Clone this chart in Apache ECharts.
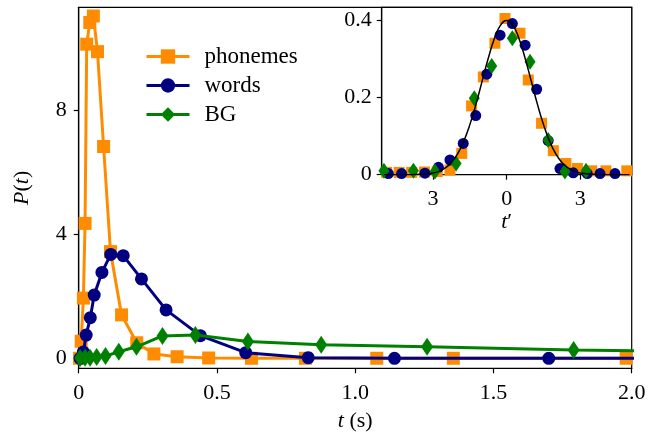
<!DOCTYPE html>
<html>
<head>
<meta charset="utf-8">
<script src="https://cdn.jsdelivr.net/npm/echarts@6/dist/echarts.min.js"></script>
<style>
html,body{margin:0;padding:0;background:#fff;}
#c{width:649px;height:436px;}
</style>
</head>
<body>
<div id="c"></div>
<script>
// main panel: P(t) vs t (s)
var phT = [0.003,0.009,0.017,0.023,0.029,0.04,0.053,0.068,0.09,0.115,0.155,0.21,0.272,0.356,0.47,0.625,0.82,1.078,1.355,1.98];
var phP = [0.0,0.55,1.94,4.35,10.13,10.83,11.04,9.89,6.83,3.44,1.40,0.5,0.14,0.05,0.01,0.0,0.0,0.0,0.0,0.0];
var wdT = [0.005,0.017,0.027,0.042,0.056,0.084,0.116,0.161,0.227,0.316,0.44,0.604,0.83,1.142,1.70,2.4];
var wdP = [0.0,0.2,0.75,1.31,2.04,2.77,3.35,3.31,2.56,1.56,0.73,0.18,0.02,0.0,0.0,0.0];
var bgT = [0.005,0.023,0.041,0.065,0.097,0.145,0.209,0.303,0.422,0.612,0.877,1.26,1.79,2.5];
var bgP = [0.01,0.02,0.02,0.04,0.07,0.21,0.37,0.72,0.75,0.54,0.44,0.37,0.27,0.17];

// inset: rescaled t'
var phT2 = [-4.89,-4.38,-3.87,-3.35,-2.83,-2.31,-1.83,-1.43,-0.95,-0.48,-0.07,0.54,0.88,1.42,1.9,2.41,2.88,3.46,4.04,4.89];
var phP2 = [0.006,0.006,0.006,0.007,0.008,0.012,0.055,0.178,0.253,0.34,0.404,0.366,0.245,0.133,0.062,0.029,0.016,0.01,0.01,0.01];
var wdT2 = [-4.82,-4.28,-3.33,-2.78,-2.31,-1.77,-1.26,-0.81,-0.27,0.23,0.75,1.22,1.69,2.17,2.71,3.28,3.8,4.41];
var wdP2 = [0.003,0.003,0.004,0.019,0.038,0.081,0.153,0.26,0.361,0.391,0.335,0.221,0.088,0.016,0.005,0.003,0.003,0.003];
var bgT2 = [-5.0,-3.8,-2.92,-2.06,-1.32,-0.61,0.23,0.95,1.69,2.37,3.23];
var bgP2 = [0.01,0.01,0.008,0.029,0.198,0.281,0.353,0.292,0.09,0.008,0.01];
var gsT = [-5,-4.5,-4,-3.5,-3,-2.75,-2.5,-2.25,-2,-1.75,-1.5,-1.25,-1,-0.75,-0.5,-0.25,0,0.25,0.5,0.75,1,1.25,1.5,1.75,2,2.25,2.5,2.75,3,3.5,4,4.5,5];
var gsP = [0,0,0.0001,0.0009,0.0044,0.0091,0.0175,0.0317,0.054,0.0863,0.1295,0.1826,0.242,0.3011,0.3521,0.3867,0.3989,0.3867,0.3521,0.3011,0.242,0.1826,0.1295,0.0863,0.054,0.0317,0.0175,0.0091,0.0044,0.0009,0.0001,0,0];

var names = ['phonemes','words','BG'];
var colors = ['#ff8c00','#000080','#008000'];
var diamond = 'path://M0,-10L6,0L0,10L-6,0Z';

var font = 'Liberation Serif';
var txt = {color:'#000',fontFamily:font,fontSize:22};
var rich = {i:{fontStyle:'italic',fontFamily:font,fontSize:22,color:'#000'}};

function pairs(x,y){
    var out = [];
    for (var i = 0; i < x.length; i++) out.push([x[i],y[i]]);
    return out;
}
function fmt(v){ return v === 0 ? '0' : v.toFixed(1); }

function axis(o){
    var a = {
        type:'value',
        axisLine:{onZero:false,lineStyle:{color:'#000',width:1.2}},
        axisTick:{length:5,lineStyle:{color:'#000',width:1.2}},
        splitLine:{show:false},
        axisLabel:Object.assign({},txt,{margin:10}),
        nameTextStyle:Object.assign({},txt,{rich:rich})
    };
    for (var k in o) {
        if (k === 'axisLabel' || k === 'axisTick') a[k] = Object.assign({},a[k],o[k]);
        else a[k] = o[k];
    }
    return a;
}

var symbols = ['rect','circle',diamond];
var sizes = [13,13,[12,18]];
var sizes2 = [11,11,[11,16]];
var main = [pairs(phT,phP),pairs(wdT,wdP),pairs(bgT,bgP)];
var ins = [pairs(phT2,phP2),pairs(wdT2,wdP2),pairs(bgT2,bgP2)];

var series = [];
for (var i = 0; i < 3; i++) {
    series.push({
        name:names[i],type:'line',xAxisIndex:0,yAxisIndex:0,data:main[i],
        symbol:symbols[i],symbolSize:sizes[i],showAllSymbol:true,
        lineStyle:{color:colors[i],width:3},itemStyle:{color:colors[i]},
        clip:true,animation:false,z:3+i
    });
}
for (var j = 0; j < 3; j++) {
    series.push({
        name:names[j]+' (inset)',type:'scatter',xAxisIndex:1,yAxisIndex:1,data:ins[j],
        symbol:symbols[j],symbolSize:sizes2[j],
        itemStyle:{color:colors[j],opacity:1},animation:false,z:10+j
    });
}
series.push({
    name:'gauss',type:'line',xAxisIndex:1,yAxisIndex:1,data:pairs(gsT,gsP),
    symbol:'none',smooth:true,lineStyle:{color:'#000',width:1.5},animation:false,z:20
});

var chart = echarts.init(document.getElementById('c'));
chart.setOption({
    backgroundColor:'#fff',
    animation:false,
    legend:{
        data:names,
        left:145,top:45,orient:'vertical',padding:0,
        itemWidth:43,itemHeight:18,itemGap:6,
        lineStyle:{width:3},
        textStyle:Object.assign({},txt,{fontSize:23,lineHeight:23,padding:[0,0,0,10]})
    },
    grid:[
        {left:78.7,right:17.3,top:7.3,bottom:67.7,show:true,borderColor:'#000',borderWidth:1.2,outerBoundsMode:'none'},
        {left:381.7,right:17.3,top:7.3,bottom:261.3,show:true,borderColor:'#000',borderWidth:1.2,backgroundColor:'#fff',z:8,outerBoundsMode:'none'}
    ],
    xAxis:[
        axis({gridIndex:0,min:0,max:2,interval:0.5,axisLabel:{formatter:fmt,margin:14},
            name:'{i|t} (s)',nameLocation:'middle',nameGap:42}),
        axis({gridIndex:1,min:-5.09,max:5.09,z:9,
            axisTick:{customValues:[-3,0,3]},
            axisLabel:{customValues:[-3,0,3],formatter:function(v){ return String(Math.abs(v)); },margin:14},
            name:'{i|t}\u2032',nameLocation:'middle',nameGap:35})
    ],
    yAxis:[
        axis({gridIndex:0,min:-0.323,max:11.32,
            axisTick:{customValues:[0,4,8]},
            axisLabel:{customValues:[0,4,8],margin:12},
            name:'{i|P}({i|t})',nameLocation:'middle',nameGap:45}),
        axis({gridIndex:1,min:0,max:0.433,z:9,
            axisTick:{customValues:[0,0.2,0.4]},
            axisLabel:{customValues:[0,0.2,0.4],formatter:fmt,margin:10}})
    ],
    series:series
});
</script>
</body>
</html>
